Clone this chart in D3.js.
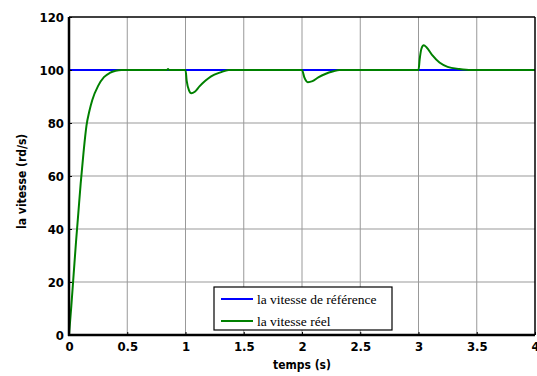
<!DOCTYPE html>
<html>
<head>
<meta charset="utf-8">
<script src="https://cdn.jsdelivr.net/npm/d3@7"></script>
<style>
body { margin: 0; background: #fff; }
svg { display: block; }
.tick text { font-family: "DejaVu Sans Condensed", "DejaVu Sans", sans-serif; font-weight: bold; font-size: 13px; fill: #000; }
</style>
</head>
<body>
<div id="chart"></div>
<script>
// time axis ticks and value ticks
var xTicks = [0, 0.5, 1, 1.5, 2, 2.5, 3, 3.5, 4];
var yTicks = [0, 20, 40, 60, 80, 100, 120];

// reference speed (rd/s)
var refTime = [0, 4];
var refSpeed = [100, 100];

var realTime = [0, 0.02, 0.04, 0.06, 0.08, 0.1, 0.125, 0.15, 0.175, 0.2, 0.25, 0.3, 0.35, 0.4, 0.45, 0.5,
    0.84, 0.85, 0.86,
    1.0, 1.01, 1.03, 1.05, 1.08, 1.12, 1.17, 1.22, 1.3, 1.37,
    2.0, 2.02, 2.05, 2.09, 2.14, 2.2, 2.27, 2.32,
    3.0, 3.01, 3.025, 3.045, 3.07, 3.12, 3.18, 3.25, 3.35, 3.45, 4.0];
var realSpeed = [0, 11, 23, 35, 46, 57, 69, 79, 84.5, 88.7, 94, 97.3, 98.9, 99.7, 100, 100,
    100, 100.4, 100,
    100, 96, 92.3, 91.2, 91.8, 93.8, 95.9, 97.6, 99.1, 100,
    100, 97.2, 95.4, 95.8, 97.2, 98.5, 99.5, 100,
    100, 104, 108, 109.3, 108.5, 105.5, 102.8, 101.2, 100.4, 100, 100];

var legendNames = ["la vitesse de référence", "la vitesse réel"];
var colors = ["#0000ff", "#008000"];

var width = 537, height = 376;
var margin = {left: 69, right: 2, top: 17, bottom: 41};

var svg = d3.select("#chart").append("svg")
    .attr("width", width).attr("height", height);

var x = d3.scaleLinear().domain([0, 4]).range([margin.left, width - margin.right]);
var y = d3.scaleLinear().domain([0, 120]).range([height - margin.bottom, margin.top]);

// grid
svg.append("g").selectAll("line.gx")
    .data(xTicks.slice(1, -1)).enter().append("line")
    .attr("x1", function(d) { return x(d); }).attr("x2", function(d) { return x(d); })
    .attr("y1", y(0)).attr("y2", y(120))
    .style("stroke", "#999").style("stroke-width", 1);
svg.append("g").selectAll("line.gy")
    .data(yTicks.slice(1, -1)).enter().append("line")
    .attr("x1", x(0)).attr("x2", x(4))
    .attr("y1", function(d) { return y(d); }).attr("y2", function(d) { return y(d); })
    .style("stroke", "#999").style("stroke-width", 1);

var line = d3.line()
    .x(function(d) { return x(d[0]); })
    .y(function(d) { return y(d[1]); })
    .curve(d3.curveMonotoneX);

var refData = refTime.map(function(t, i) { return [t, refSpeed[i]]; });
var realData = realTime.map(function(t, i) { return [t, realSpeed[i]]; });

svg.append("path").datum(refData).attr("d", line)
    .style("fill", "none").style("stroke", colors[0]).style("stroke-width", 2);
svg.append("path").datum(realData).attr("d", line)
    .style("fill", "none").style("stroke", colors[1]).style("stroke-width", 2);

// axes
var xAxis = svg.append("g").attr("transform", "translate(0," + y(0) + ")")
    .call(d3.axisBottom(x).tickValues(xTicks).tickSize(-3).tickPadding(7)
        .tickFormat(function(d) { return d3.format("")(d); }));
var yAxis = svg.append("g").attr("transform", "translate(" + x(0) + ",0)")
    .call(d3.axisLeft(y).tickValues(yTicks).tickSize(-3).tickPadding(5));
[xAxis, yAxis].forEach(function(a) {
    a.select(".domain").remove();
    a.selectAll(".tick line").style("stroke", "#000").style("stroke-width", 1);
});

// frame
svg.append("line").attr("x1", x(0)).attr("x2", x(4)).attr("y1", y(120)).attr("y2", y(120))
    .style("stroke", "#000").style("stroke-width", 1.5);
svg.append("line").attr("x1", x(4)).attr("x2", x(4)).attr("y1", y(120)).attr("y2", y(0))
    .style("stroke", "#000").style("stroke-width", 1.5);
svg.append("line").attr("x1", x(0)).attr("x2", x(0)).attr("y1", y(120)).attr("y2", y(0) + 1)
    .style("stroke", "#000").style("stroke-width", 2.5);
svg.append("line").attr("x1", x(0) - 1).attr("x2", x(4)).attr("y1", y(0)).attr("y2", y(0))
    .style("stroke", "#000").style("stroke-width", 2.5);

// axis titles
svg.append("text").attr("x", (x(0) + x(4)) / 2).attr("y", 369)
    .attr("text-anchor", "middle")
    .style("font-family", "'DejaVu Sans Condensed', 'DejaVu Sans', sans-serif")
    .style("font-weight", "bold").style("font-size", "12px")
    .text("temps (s)");
svg.append("text").attr("transform", "translate(26," + y(58) + ") rotate(-90)")
    .attr("text-anchor", "middle")
    .style("font-family", "'DejaVu Sans Condensed', 'DejaVu Sans', sans-serif")
    .style("font-weight", "bold").style("font-size", "12px")
    .text("la vitesse (rd/s)");

// legend
var lg = svg.append("g").attr("transform", "translate(214,287)");
lg.append("rect").attr("width", 178).attr("height", 43)
    .style("fill", "#fff").style("stroke", "#000").style("stroke-width", 1.2);
legendNames.forEach(function(name, i) {
    var cy = 12 + i * 22;
    lg.append("line").attr("x1", 7).attr("x2", 39).attr("y1", cy).attr("y2", cy)
        .style("stroke", colors[i]).style("stroke-width", 2);
    lg.append("text").attr("x", 43).attr("y", cy + 4.5)
        .style("font-family", "'Liberation Serif', 'Times New Roman', serif")
        .style("font-size", "13.5px")
        .text(name);
});
</script>
</body>
</html>
